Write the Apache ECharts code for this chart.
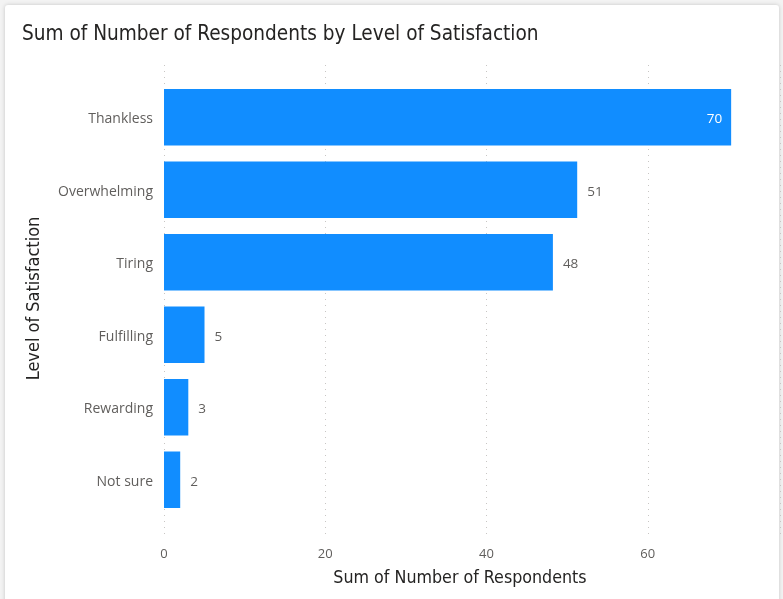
<!DOCTYPE html>
<html>
<head>
<meta charset="utf-8">
<script src="https://cdn.jsdelivr.net/npm/echarts@6/dist/echarts.min.js"></script>
<style>
  html, body { margin: 0; padding: 0; background: #f3f3f3; overflow: hidden; }
  #card {
    position: absolute; left: 5px; top: 5px; width: 774px; height: 610px;
    background: #ffffff; border-radius: 3px;
    box-shadow: 0 0 4px rgba(0,0,0,0.18);
  }
  #chart { position: absolute; left: 0; top: 0; width: 783px; height: 599px; }
</style>
</head>
<body>
<div id="card"></div>
<div id="chart"></div>
<script>
// Respondent counts per satisfaction level (top to bottom as drawn)
const categories = ['Thankless', 'Overwhelming', 'Tiring', 'Fulfilling', 'Rewarding', 'Not sure'];
const respondents = [70, 51, 48, 5, 3, 2];
const xTicks = [0, 20, 40, 60];

const titleFont = '"DejaVu Sans Condensed", "Liberation Sans Narrow", sans-serif';
const labelFont = '"Open Sans", "Noto Sans", sans-serif';

const chart = echarts.init(document.getElementById('chart'), null, { renderer: 'canvas' });

// The largest bar carries its label inside, in white
const barData = respondents.map((v) => {
  const item = { value: v };
  if (v === Math.max(...respondents)) {
    item.label = { position: 'insideRight', color: '#ffffff', distance: 9 };
  }
  return item;
});

// Value range reaches a little past the last labelled tick
const xMax = 76.4;

chart.setOption({
  backgroundColor: 'transparent',
  animation: false,
  title: {
    text: 'Sum of Number of Respondents by Level of Satisfaction',
    left: 17, top: 19,
    textStyle: { fontFamily: titleFont, fontSize: 20.6, fontWeight: 'normal', color: '#252423' }
  },
  grid: [
    { left: 164, right: 0, top: 81, bottom: 83 },
    { left: 164, right: 0, top: 65, bottom: 64 }
  ],
  xAxis: [
    {
      type: 'value', gridIndex: 0, min: 0, max: xMax, interval: 20,
      axisLine: { show: false }, axisTick: { show: false },
      axisLabel: { show: false }, splitLine: { show: false }
    },
    {
      type: 'value', gridIndex: 1, min: 0, max: xMax, interval: 20,
      axisLine: { show: false }, axisTick: { show: false },
      axisLabel: {
        margin: 13, color: '#605E5C', fontFamily: labelFont, fontSize: 13,
        formatter: v => (xTicks.indexOf(v) >= 0 ? String(v) : '')
      },
      splitLine: { show: true, lineStyle: { type: [1, 5], color: '#C8C6C4', width: 1 } },
      name: 'Sum of Number of Respondents',
      nameLocation: 'middle', nameGap: 34,
      nameTextStyle: { fontFamily: titleFont, fontSize: 17.7, color: '#252423', padding: [0, 24, 0, 0] }
    }
  ],
  yAxis: [
    {
      type: 'category', gridIndex: 0, data: categories, inverse: true,
      axisLine: { show: false }, axisTick: { show: false },
      axisLabel: {
        margin: 11, color: '#605E5C', fontFamily: labelFont, fontSize: 14,
        verticalAlign: 'top', lineHeight: 4
      },
      name: 'Level of Satisfaction',
      nameLocation: 'middle', nameGap: 121, nameRotate: 90,
      nameTextStyle: { fontFamily: titleFont, fontSize: 18, color: '#252423' }
    },
    {
      type: 'category', gridIndex: 1, data: categories, inverse: true,
      show: false
    }
  ],
  series: [
    {
      type: 'bar', xAxisIndex: 0, yAxisIndex: 0,
      data: barData,
      barWidth: '78%',
      itemStyle: { color: '#118DFF' },
      label: {
        show: true, position: 'right', distance: 10, offset: [0, 2],
        color: '#605E5C', fontFamily: labelFont, fontSize: 13.5
      }
    }
  ]
});
</script>
</body>
</html>
